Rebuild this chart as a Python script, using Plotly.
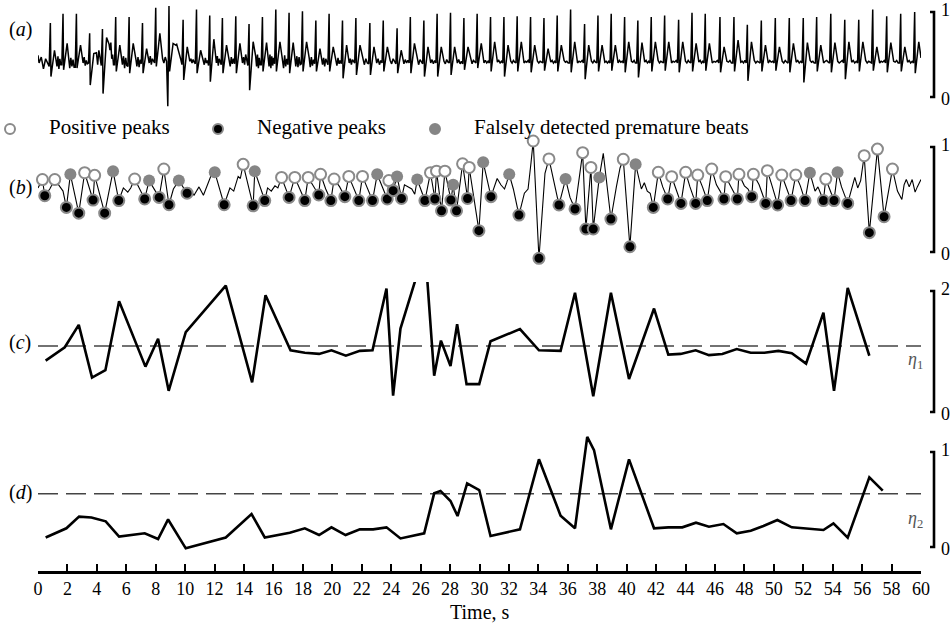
import plotly.graph_objects as go

# ---------------- data ----------------
# (a) ECG: one entry per beat (R-peak time, Q, R, S and T amplitudes) plus
# the small baseline excursions recorded between consecutive beats.
ecg_r_t = [0.84, 1.70, 2.61, 3.51, 4.38, 5.28, 6.19, 7.10, 8.00, 8.90,
           9.86, 10.77, 11.67, 12.53, 13.44, 14.34, 15.25, 16.16, 17.06, 17.97,
           18.88, 19.78, 20.69, 21.60, 22.55, 23.46, 24.40, 25.30, 26.22, 27.12,
           28.03, 28.94, 29.84, 30.75, 31.66, 32.56, 33.47, 34.38, 35.28, 36.19,
           37.14, 38.05, 38.95, 39.86, 40.76, 41.67, 42.58, 43.53, 44.44, 45.34,
           46.34, 47.29, 48.20, 49.15, 50.10, 51.05, 52.00, 52.91, 53.87, 54.82,
           55.77, 56.72, 57.67, 58.62, 59.57]
ecg_r_v = [0.87, 0.98, 0.98, 0.75, 0.80, 0.94, 0.94, 0.87, 1.05, 1.07,
           0.91, 1.03, 0.96, 0.93, 0.95, 0.86, 0.94, 1.03, 0.99, 1.01,
           0.90, 0.98, 0.90, 0.93, 0.87, 0.90, 0.81, 0.94, 0.90, 0.98,
           0.99, 0.93, 0.98, 0.94, 0.94, 0.95, 0.94, 0.93, 0.96, 1.03,
           0.86, 0.96, 0.98, 0.94, 0.90, 0.94, 0.96, 0.91, 0.99, 0.98,
           0.94, 0.94, 0.85, 0.90, 0.93, 0.93, 0.93, 0.94, 0.98, 0.91,
           0.91, 1.03, 0.95, 0.98, 1.00]
ecg_q_v = [0.36, 0.38, 0.35, 0.40, 0.37, 0.38, 0.36, 0.39, 0.40, -0.11,
           0.38, 0.39, 0.37, 0.38, 0.39, 0.37, 0.38, 0.39, 0.38, 0.39,
           0.39, 0.38, 0.39, 0.40, 0.39, 0.40, 0.39, 0.40, 0.39, 0.40,
           0.40, 0.39, 0.40, 0.40, 0.40, 0.40, 0.40, 0.40, 0.40, 0.40,
           0.40, 0.40, 0.40, 0.40, 0.40, 0.40, 0.40, 0.40, 0.40, 0.40,
           0.40, 0.40, 0.40, 0.40, 0.40, 0.40, 0.40, 0.40, 0.40, 0.40,
           0.40, 0.40, 0.40, 0.40, 0.40]
ecg_s_v = [0.24, 0.32, 0.34, 0.14, 0.04, 0.30, 0.28, 0.28, 0.36, 0.30,
           0.20, 0.28, 0.18, 0.28, 0.28, 0.08, 0.30, 0.30, 0.28, 0.30,
           0.30, 0.30, 0.22, 0.26, 0.26, 0.30, 0.28, 0.28, 0.24, 0.24,
           0.26, 0.32, 0.34, 0.30, 0.24, 0.30, 0.29, 0.31, 0.30, 0.29,
           0.21, 0.30, 0.31, 0.29, 0.23, 0.30, 0.31, 0.29, 0.30, 0.31,
           0.29, 0.30, 0.19, 0.30, 0.31, 0.29, 0.17, 0.30, 0.29, 0.21,
           0.30, 0.31, 0.29, 0.30, 0.28]
ecg_t_v = [0.55, 0.63, 0.61, 0.51, 0.70, 0.61, 0.63, 0.57, 0.75, 0.63,
           0.59, 0.55, 0.68, 0.61, 0.63, 0.65, 0.64, 0.65, 0.64, 0.65,
           0.57, 0.59, 0.61, 0.61, 0.59, 0.59, 0.55, 0.63, 0.59, 0.59,
           0.59, 0.59, 0.63, 0.65, 0.61, 0.65, 0.61, 0.57, 0.61, 0.65,
           0.61, 0.61, 0.61, 0.65, 0.64, 0.65, 0.65, 0.65, 0.63, 0.63,
           0.59, 0.67, 0.65, 0.61, 0.59, 0.63, 0.64, 0.61, 0.64, 0.65,
           0.65, 0.59, 0.64, 0.59, 0.65]
ecg_lead_in = [0.49, 0.40, 0.47, 0.33, 0.45, 0.38]
ecg_between = [
    [0.36, 0.48, 0.33, 0.45, 0.38], [0.34, 0.46, 0.36, 0.44, 0.35],
    [0.40, 0.47, 0.37, 0.43, 0.39], [0.52, 0.38, 0.55, 0.42],
    [0.62, 0.55, 0.64, 0.45, 0.50, 0.38], [0.38, 0.48, 0.34, 0.46, 0.37],
    [0.45, 0.36, 0.47, 0.35, 0.44], [0.40, 0.48, 0.38, 0.45, 0.43],
    [0.45, 0.40, 0.47, 0.42], [0.61, 0.62, 0.58, 0.55, 0.48, 0.44],
    [0.42, 0.45, 0.40, 0.44, 0.41], [0.44, 0.38, 0.46, 0.40, 0.43],
    [0.40, 0.48, 0.37, 0.45, 0.41], [0.44, 0.36, 0.47, 0.39, 0.45],
    [0.40, 0.47, 0.38, 0.50, 0.42], [0.48, 0.36, 0.50, 0.34, 0.46, 0.38],
    [0.36, 0.50, 0.34, 0.48, 0.37, 0.46], [0.46, 0.34, 0.49, 0.36, 0.45],
    [0.36, 0.48, 0.35, 0.47, 0.38], [0.46, 0.35, 0.47, 0.37, 0.44],
    [0.38, 0.46, 0.36, 0.45, 0.40], [0.44, 0.37, 0.46, 0.39, 0.43],
    [0.40, 0.45, 0.38, 0.44, 0.41], [0.44, 0.38, 0.45, 0.40],
    [0.40, 0.45, 0.38, 0.43], [0.43, 0.39, 0.45, 0.41],
    [0.39, 0.44, 0.40, 0.43], [0.43, 0.38, 0.44, 0.41],
    [0.40, 0.44, 0.39, 0.43], [0.42, 0.39, 0.44, 0.41],
    [0.40, 0.44, 0.39, 0.42], [0.43, 0.39, 0.43, 0.41],
    [0.40, 0.43, 0.40, 0.42], [0.41, 0.43, 0.40, 0.42],
    [0.42, 0.40, 0.43, 0.41], [0.40, 0.42, 0.41, 0.43],
    [0.42, 0.40, 0.42, 0.41], [0.41, 0.43, 0.40, 0.42],
    [0.43, 0.41, 0.42, 0.40], [0.40, 0.42, 0.41, 0.43],
    [0.42, 0.40, 0.43, 0.41], [0.41, 0.42, 0.40, 0.42],
    [0.40, 0.43, 0.41, 0.42], [0.42, 0.41, 0.43, 0.40],
    [0.41, 0.43, 0.40, 0.42], [0.43, 0.40, 0.42, 0.41],
    [0.40, 0.42, 0.41, 0.43], [0.42, 0.40, 0.43, 0.41],
    [0.41, 0.43, 0.40, 0.42], [0.40, 0.42, 0.41, 0.43],
    [0.42, 0.41, 0.43, 0.40], [0.41, 0.42, 0.40, 0.43],
    [0.43, 0.40, 0.42, 0.41], [0.40, 0.43, 0.41, 0.42],
    [0.42, 0.40, 0.43, 0.41], [0.41, 0.43, 0.40, 0.42],
    [0.43, 0.41, 0.42, 0.40], [0.40, 0.42, 0.43, 0.41],
    [0.42, 0.40, 0.41, 0.43], [0.41, 0.43, 0.40, 0.42],
    [0.43, 0.40, 0.42, 0.41], [0.40, 0.42, 0.41, 0.43],
    [0.42, 0.41, 0.43, 0.40], [0.41, 0.43, 0.40, 0.42],
    [],
]
ecg_end = 0.46

# (b) processed signal with detected peaks
pos_t = [0.30, 1.14, 3.17, 3.85, 6.57, 8.55, 13.94, 16.55, 17.45, 18.36,
         19.20, 20.12, 21.12, 22.05, 23.84, 26.67, 27.08, 27.65, 28.85, 29.30,
         33.65, 34.72, 37.01, 37.57, 39.77, 42.15, 43.06, 44.01, 44.83, 45.78,
         46.73, 47.63, 48.61, 49.56, 50.54, 51.49, 53.53, 56.14, 57.04, 58.06]
pos_v = [0.69, 0.69, 0.755, 0.73, 0.695, 0.79, 0.835, 0.71, 0.71, 0.71,
         0.74, 0.695, 0.72, 0.72, 0.68, 0.755, 0.77, 0.77, 0.84, 0.805,
         1.057, 0.886, 0.946, 0.805, 0.883, 0.759, 0.717, 0.759, 0.733, 0.79,
         0.717, 0.74, 0.74, 0.775, 0.733, 0.733, 0.695, 0.917, 0.98, 0.79]
neg_t = [0.46, 1.93, 2.77, 3.74, 4.53, 5.49, 7.25, 8.23, 8.90, 10.13,
         12.65, 14.62, 15.41, 17.06, 18.13, 19.08, 19.90, 20.85, 21.80, 22.73,
         23.73, 24.13, 24.70, 26.29, 26.97, 27.42, 28.06, 28.44, 29.19, 29.96,
         30.78, 32.68, 34.04, 35.40, 36.49, 37.23, 37.73, 38.93, 40.22, 41.81,
         42.79, 43.69, 44.69, 45.48, 46.61, 47.52, 48.50, 49.45, 50.26, 51.17,
         52.12, 53.37, 54.09, 55.02, 56.49, 57.49]
neg_v = [0.536, 0.425, 0.37, 0.495, 0.37, 0.49, 0.505, 0.52, 0.45, 0.56,
         0.45, 0.44, 0.49, 0.52, 0.49, 0.543, 0.49, 0.527, 0.49, 0.49,
         0.505, 0.584, 0.51, 0.49, 0.505, 0.393, 0.495, 0.393, 0.51, 0.203,
         0.527, 0.352, -0.06, 0.448, 0.41, 0.219, 0.219, 0.314, 0.05, 0.425,
         0.505, 0.463, 0.463, 0.49, 0.505, 0.505, 0.527, 0.463, 0.448, 0.49,
         0.49, 0.49, 0.49, 0.463, 0.184, 0.336]
false_t = [2.20, 5.10, 7.55, 9.57, 12.01, 14.73, 23.05, 24.40, 25.77, 28.21,
           30.25, 32.02, 35.85, 38.14, 40.61, 52.45, 54.33]
false_v = [0.74, 0.77, 0.68, 0.68, 0.76, 0.77, 0.74, 0.72, 0.69, 0.64,
           0.855, 0.74, 0.695, 0.71, 0.835, 0.755, 0.759]
# signal samples between the marked peaks
sig_t = [0.00, 0.80, 1.50, 1.70, 5.80, 6.10, 6.30, 9.20, 10.27, 10.60,
         10.94, 11.24, 11.47, 11.74, 13.04, 13.30, 13.60, 13.75, 15.60, 15.85,
         16.10, 16.30, 19.55, 20.50, 21.45, 22.40, 24.90, 25.15, 25.40, 25.60,
         31.00, 31.20, 31.45, 31.70, 31.85, 32.30, 33.05, 33.30, 33.50, 34.45,
         36.15, 38.41, 39.30, 39.55, 40.80, 41.00, 41.20, 41.40, 41.60, 42.45,
         43.35, 44.30, 45.15, 46.10, 46.35, 47.10, 48.00, 48.25, 49.00, 49.90,
         50.85, 51.80, 52.80, 53.00, 53.20, 53.80, 54.60, 55.30, 55.50, 55.70,
         55.90, 58.20, 58.40, 58.70, 58.85, 59.00, 59.20, 59.40, 59.60, 59.75,
         60.00]
sig_v = [0.61, 0.60, 0.62, 0.58, 0.61, 0.57, 0.61, 0.60, 0.61, 0.54,
         0.62, 0.54, 0.63, 0.72, 0.61, 0.58, 0.72, 0.70, 0.61, 0.58,
         0.63, 0.61, 0.60, 0.62, 0.60, 0.60, 0.64, 0.62, 0.60, 0.55,
         0.62, 0.70, 0.64, 0.60, 0.66, 0.60, 0.56, 0.60, 0.85, 0.75,
         0.52, 0.94, 0.62, 0.80, 0.72, 0.60, 0.66, 0.58, 0.56, 0.62,
         0.60, 0.62, 0.62, 0.64, 0.58, 0.62, 0.63, 0.60, 0.64, 0.62,
         0.62, 0.63, 0.58, 0.62, 0.55, 0.60, 0.62, 0.61, 0.71, 0.61,
         0.68, 0.70, 0.58, 0.50, 0.64, 0.69, 0.62, 0.69, 0.57, 0.62,
         0.69]

# (c) first decision statistic and its threshold
c_t = [0.52, 1.82, 2.77, 3.67, 4.58, 5.51, 7.30, 8.16, 8.88, 10.04,
       12.76, 14.55, 15.46, 17.16, 18.13, 19.10, 19.94, 20.92, 21.87, 22.73,
       23.68, 24.13, 24.63, 26.30, 26.92, 27.38, 28.03, 28.48, 29.12, 29.98,
       30.75, 32.75, 34.04, 35.51, 36.49, 37.73, 38.93, 40.16, 41.86, 42.83,
       43.67, 44.69, 45.59, 46.50, 47.48, 48.43, 49.36, 50.31, 51.22, 52.19,
       53.37, 54.09, 55.02, 56.49]
c_v = [0.85, 1.07, 1.44, 0.57, 0.69, 1.83, 0.75, 1.21, 0.35, 1.32,
       2.09, 0.49, 1.93, 1.02, 0.98, 0.96, 1.02, 0.93, 1.01, 1.02,
       2.04, 0.27, 1.38, 2.70, 0.60, 1.18, 0.76, 1.45, 0.46, 0.46,
       1.17, 1.37, 1.02, 1.01, 1.97, 0.26, 1.97, 0.545, 1.71, 0.95,
       0.96, 1.02, 0.94, 0.96, 1.04, 0.98, 0.98, 1.01, 0.97, 0.80,
       1.64, 0.35, 2.05, 0.93]
eta1 = 1.09

# (d) second decision statistic and its threshold
d_t = [0.52, 1.93, 2.79, 3.63, 4.60, 5.51, 7.25, 8.16, 8.84, 10.04,
       12.76, 14.51, 15.41, 17.11, 18.13, 19.10, 19.94, 20.90, 21.87, 22.77,
       23.68, 24.63, 26.24, 26.92, 27.35, 28.03, 28.51, 29.16, 29.98, 30.75,
       32.75, 34.04, 35.51, 36.49, 37.32, 37.78, 38.93, 40.16, 41.86, 42.83,
       43.78, 44.71, 45.59, 46.57, 47.48, 48.43, 49.29, 50.24, 51.22, 52.24,
       53.37, 54.05, 55.02, 56.49, 57.40]
d_v = [0.10, 0.197, 0.32, 0.31, 0.27, 0.11, 0.144, 0.084, 0.29, -0.014,
       0.10, 0.347, 0.10, 0.15, 0.197, 0.126, 0.207, 0.126, 0.186, 0.186,
       0.207, 0.09, 0.144, 0.565, 0.59, 0.484, 0.326, 0.67, 0.60, 0.116,
       0.186, 0.923, 0.33, 0.197, 1.16, 1.02, 0.186, 0.923, 0.197, 0.207,
       0.207, 0.256, 0.214, 0.242, 0.144, 0.172, 0.221, 0.284, 0.207, 0.197,
       0.179, 0.249, 0.098, 0.733, 0.593]
eta2 = 0.56

x_ticks = list(range(0, 61, 2))

# ---------------- build the ECG polyline ----------------
def spread(vals, t0, t1):
    n = len(vals)
    if n == 0:
        return []
    step = (t1 - t0) / n
    return [(t0 + step * (k + 0.5), v) for k, v in enumerate(vals)]

ecg_pts = [(0.0, ecg_lead_in[0])] + spread(ecg_lead_in[1:], 0.0, ecg_r_t[0] - 0.1)
for i, tr in enumerate(ecg_r_t):
    ecg_pts += [(tr - 0.08, ecg_q_v[i]), (tr, ecg_r_v[i]),
                (tr + 0.04, ecg_s_v[i]), (tr + 0.28, ecg_t_v[i])]
    nxt = ecg_r_t[i + 1] if i + 1 < len(ecg_r_t) else 60.0
    ecg_pts += spread(ecg_between[i], tr + 0.42, nxt - 0.12)
ecg_pts.append((60.0, ecg_end))
ecg_x = [p[0] for p in ecg_pts]
ecg_y = [p[1] for p in ecg_pts]

sig_pts = sorted(list(zip(pos_t, pos_v)) + list(zip(neg_t, neg_v)) +
                 list(zip(false_t, false_v)) + list(zip(sig_t, sig_v)))
sig_x = [p[0] for p in sig_pts]
sig_y = [p[1] for p in sig_pts]

# ---------------- geometry ----------------
W, H = 950, 629
ML, MR, MT, MB = 38, 29, 0, 57
PW, PH = W - ML - MR, H - MT - MB

def pyp(pix):          # pixel row -> paper y
    return (PH - (pix - MT)) / PH

def pxp(pix):          # pixel column -> paper x
    return (pix - ML) / PW

# panel: (axis, top px, bottom px, px of value 0, px per unit, bracket top value, tag, tag row)
panels = [
    ("y",  0,   108, 97,  85.0,  1, "a", 29),
    ("y2", 134, 264, 252, 105.0, 1, "b", 188),
    ("y3", 282, 416, 412, 60.5,  2, "c", 342),
    ("y4", 432, 562, 547, 95.0,  1, "d", 492),
]

SERIF = "Liberation Serif"
fig = go.Figure()

fig.add_trace(go.Scatter(x=ecg_x, y=ecg_y, mode="lines", yaxis="y",
                         line=dict(color="black", width=1.5)))
fig.add_trace(go.Scatter(x=sig_x, y=sig_y, mode="lines", yaxis="y2",
                         line=dict(color="black", width=1.1)))
fig.add_trace(go.Scatter(x=pos_t, y=pos_v, mode="markers", yaxis="y2", cliponaxis=False,
                         marker=dict(symbol="circle", size=11, color="white",
                                     line=dict(color="#8a8a8a", width=2))))
fig.add_trace(go.Scatter(x=neg_t, y=neg_v, mode="markers", yaxis="y2", cliponaxis=False,
                         marker=dict(symbol="circle", size=11, color="black",
                                     line=dict(color="#8a8a8a", width=2))))
fig.add_trace(go.Scatter(x=false_t, y=false_v, mode="markers", yaxis="y2", cliponaxis=False,
                         marker=dict(symbol="circle", size=12, color="#858585",
                                     line=dict(color="#858585", width=0))))
fig.add_trace(go.Scatter(x=[0, 60], y=[eta1, eta1], mode="lines", yaxis="y3",
                         line=dict(color="#444444", width=1.5, dash="20px,8px")))
fig.add_trace(go.Scatter(x=c_t, y=c_v, mode="lines", yaxis="y3",
                         line=dict(color="black", width=2.6)))
fig.add_trace(go.Scatter(x=[0, 60], y=[eta2, eta2], mode="lines", yaxis="y4",
                         line=dict(color="#444444", width=1.5, dash="20px,8px")))
fig.add_trace(go.Scatter(x=d_t, y=d_v, mode="lines", yaxis="y4",
                         line=dict(color="black", width=2.6)))

layout_axes = {}
shapes = []
annotations = []
bx = pxp(934)
serif_len = 4.0 / PW
for name, top, bot, zero, unit, tv, lab, lab_y in panels:
    key = "yaxis" if name == "y" else "yaxis" + name[1:]
    layout_axes[key] = dict(domain=[pyp(bot), pyp(top)],
                            range=[(zero - bot) / unit, (zero - top) / unit],
                            visible=False, anchor="x", fixedrange=True)
    shapes.append(dict(type="path", xref="paper", yref=name,
                       path=f"M {bx - serif_len},{tv} L {bx},{tv} L {bx},0 L {bx - serif_len},0",
                       line=dict(color="black", width=2.6)))
    annotations.append(dict(x=pxp(939), y=tv, xref="paper", yref=name, text=str(tv),
                            showarrow=False, xanchor="left", yanchor="middle", yshift=2,
                            font=dict(family=SERIF, size=18, color="black")))
    annotations.append(dict(x=pxp(939), y=0, xref="paper", yref=name, text="0",
                            showarrow=False, xanchor="left", yanchor="middle", yshift=-2,
                            font=dict(family=SERIF, size=18, color="black")))
    annotations.append(dict(x=pxp(20), y=pyp(lab_y), xref="paper", yref="paper",
                            text=f"(<i>{lab}</i>)", showarrow=False,
                            xanchor="center", yanchor="middle",
                            font=dict(family=SERIF, size=20, color="black")))

# threshold labels
for sub, ypix in (("1", 361), ("2", 519)):
    annotations.append(dict(x=pxp(915), y=pyp(ypix), xref="paper", yref="paper",
                            text=f"<i>η</i><sub>{sub}</sub>", showarrow=False,
                            xanchor="center", yanchor="middle",
                            font=dict(family=SERIF, size=18, color="#555555")))

# legend row for panel (b)
legend_items = [
    (10, 47, "Positive peaks", "white", "#8a8a8a"),
    (218, 255, "Negative peaks", "black", "#8a8a8a"),
    (435, 472, "Falsely detected premature beats", "#858585", "#858585"),
]
for mx, tx, text, fill, edge in legend_items:
    shapes.append(dict(type="circle", xref="paper", yref="paper",
                       xsizemode="pixel", ysizemode="pixel",
                       xanchor=pxp(mx), yanchor=pyp(129),
                       x0=-5, x1=5, y0=-5, y1=5,
                       fillcolor=fill, line=dict(color=edge, width=2)))
    annotations.append(dict(x=pxp(tx), y=pyp(127), xref="paper", yref="paper",
                            text=text, showarrow=False, xanchor="left", yanchor="middle",
                            font=dict(family=SERIF, size=21, color="black")))

annotations.append(dict(x=0.5, y=pyp(612), xref="paper", yref="paper", text="Time, s",
                        showarrow=False, xanchor="center", yanchor="middle",
                        font=dict(family=SERIF, size=20, color="black")))

fig.update_layout(
    width=W, height=H,
    margin=dict(l=ML, r=MR, t=MT, b=MB, pad=0),
    paper_bgcolor="white", plot_bgcolor="white",
    showlegend=False,
    xaxis=dict(range=[0, 60], tickvals=x_ticks, ticktext=[str(v) for v in x_ticks],
               anchor="free", position=0, showline=True, linecolor="black", linewidth=2.6,
               ticks="inside", ticklen=7, tickwidth=2.4, tickcolor="black",
               showgrid=False, zeroline=False, fixedrange=True,
               tickfont=dict(family=SERIF, size=18, color="black")),
    shapes=shapes,
    annotations=annotations,
    **layout_axes,
)

fig.write_html("out.html")
